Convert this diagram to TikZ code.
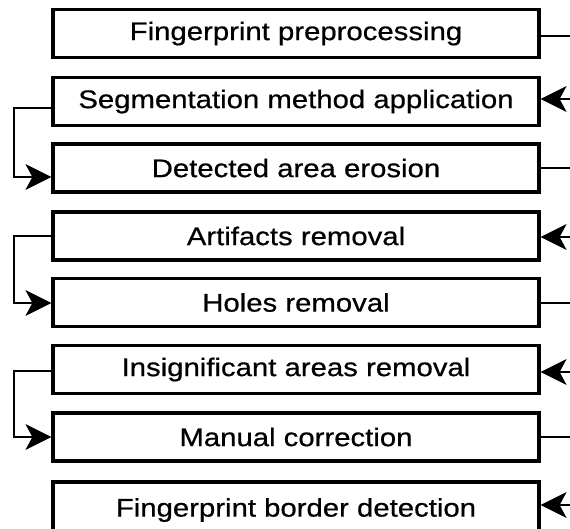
\documentclass[tikz,border=0pt]{standalone}
\usepackage{fontspec}
\setmainfont{Liberation Sans}[FakeStretch=1.15,FakeBold=0.6]
\usetikzlibrary{arrows.meta}
\tikzset{
  stepbox/.style={draw=black, line width=3.2pt, minimum width=486pt, minimum height=48pt,
    inner sep=0pt, font=\fontsize{25.5}{30}\selectfont, fill=white},
  conn/.style={draw=black, line width=2.4pt},
  arr/.style={conn, -{Stealth[length=26pt, width=26pt, inset=7pt, fill=black, line width=1pt]}},
}
\begin{document}
\begin{tikzpicture}[x=1pt, y=-1pt]
\useasboundingbox (0,0) rectangle (570,529);
\node[stepbox] (b1) at (296,33.5) {Fingerprint preprocessing};
\node[stepbox] (b2) at (296,101.5) {Segmentation method application};
\node[stepbox] (b3) at (296,168) {Detected area erosion};
\node[stepbox] (b4) at (296,236) {Artifacts removal};
\node[stepbox] (b5) at (296,302.5) {Holes removal};
\node[stepbox] (b6) at (296,369.5) {Insignificant areas removal};
\node[stepbox] (b7) at (296,437) {Manual correction};
\node[stepbox, minimum height=56pt] (b8) at (296,510) {\raisebox{3pt}{Fingerprint border detection}};
% right side free ends
\coordinate (r1) at (572,36);
\coordinate (r2) at (572,99);
\coordinate (r3) at (572,168);
\coordinate (r4) at (572,237);
\coordinate (r5) at (572,303);
\coordinate (r6) at (572,372);
\coordinate (r7) at (572,437);
\coordinate (r8) at (572,505);
\draw[conn] (b1.east |- r1) -- (r1);
\draw[arr] (r2) -- (b2.east |- r2);
\draw[conn] (b3.east |- r3) -- (r3);
\draw[arr] (r4) -- (b4.east |- r4);
\draw[conn] (b5.east |- r5) -- (r5);
\draw[arr] (r6) -- (b6.east |- r6);
\draw[conn] (b7.east |- r7) -- (r7);
\draw[arr] (r8) -- (b8.east |- r8);
% left loops
\coordinate (l1) at (14,108);
\coordinate (l2) at (14,177);
\draw[arr] (b2.west |- l1) -- (l1) -- (l2) -- (b3.west |- l2);
\coordinate (l3) at (14,236);
\coordinate (l4) at (14,303);
\draw[arr] (b4.west |- l3) -- (l3) -- (l4) -- (b5.west |- l4);
\coordinate (l5) at (14,371);
\coordinate (l6) at (14,437);
\draw[arr] (b6.west |- l5) -- (l5) -- (l6) -- (b7.west |- l6);
\end{tikzpicture}
\end{document}
